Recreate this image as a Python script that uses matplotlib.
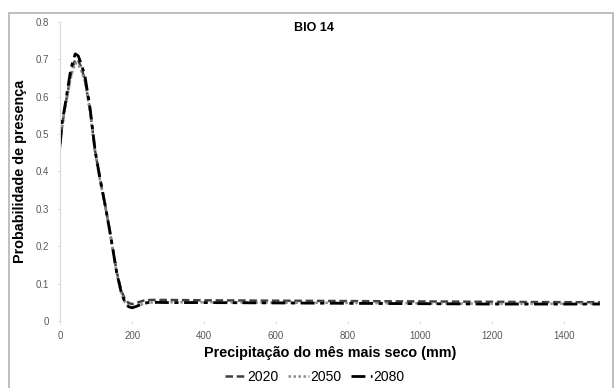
import matplotlib
matplotlib.use("Agg")
import matplotlib.pyplot as plt
from matplotlib.patches import Rectangle

plt.rcParams['font.family'] = ['Liberation Sans', 'DejaVu Sans']

# precipitation (mm) and presence probability per scenario
x = [0, 5, 14, 28, 35, 42, 50, 58, 69, 83, 97, 110, 125, 139, 157, 170, 180,
     190, 200, 215, 231, 250, 300, 400, 600, 800, 1000, 1200, 1400, 1500]
p2020 = [0.47, 0.52, 0.575, 0.65, 0.68, 0.70, 0.698, 0.68, 0.645, 0.565, 0.455,
         0.385, 0.31, 0.235, 0.132, 0.08, 0.058, 0.048, 0.045, 0.049, 0.054, 0.056,
         0.056, 0.055, 0.054, 0.053, 0.052, 0.051, 0.050, 0.050]
p2050 = [0.465, 0.515, 0.57, 0.645, 0.672, 0.69, 0.688, 0.672, 0.64, 0.56, 0.45,
         0.38, 0.305, 0.23, 0.128, 0.074, 0.05, 0.04, 0.036, 0.04, 0.046, 0.049,
         0.050, 0.050, 0.049, 0.048, 0.047, 0.046, 0.046, 0.046]
p2080 = [0.475, 0.53, 0.58, 0.665, 0.695, 0.715, 0.71, 0.69, 0.655, 0.57, 0.457,
         0.385, 0.31, 0.235, 0.13, 0.075, 0.05, 0.038, 0.035, 0.04, 0.047, 0.050,
         0.049, 0.049, 0.048, 0.047, 0.046, 0.045, 0.045, 0.045]

fig = plt.figure(figsize=(6.14, 3.88), dpi=100)
ax = fig.add_axes([0.098, 0.173, 0.879, 0.770])

ax.plot(x, p2020, color='#404040', lw=1.8, ls=(0, (3, 1.5)), label='2020')
ax.plot(x, p2050, color='#8c8c8c', lw=1.8, ls=(0, (1, 1)), label='2050')
ax.plot(x, p2080, color='black', lw=2.0, ls=(0, (5, 2, 1.5, 2)), label='2080')

ax.set_xlim(0, 1500)
ax.set_ylim(0, 0.8)
ax.set_xticks(range(0, 1401, 200))
ax.set_yticks([0, 0.1, 0.2, 0.3, 0.4, 0.5, 0.6, 0.7, 0.8])
ax.set_yticklabels(['0', '0.1', '0.2', '0.3', '0.4', '0.5', '0.6', '0.7', '0.8'])
for s in ['top', 'right', 'bottom']:
    ax.spines[s].set_visible(False)
ax.spines['left'].set_color('#d9d9d9')
ax.tick_params(axis='both', labelsize=7, colors='#595959', length=2, width=0.6)
ax.tick_params(axis='x', color='#d9d9d9', pad=5)
ax.tick_params(axis='y', color='#d9d9d9', pad=6)

fig.text(314 / 614, 1 - 28 / 388, 'BIO 14', fontsize=9, fontweight='bold',
         ha='center', va='center')
ax.set_xlabel('Precipitação do mês mais seco (mm)', fontsize=10.4, fontweight='bold', labelpad=4)
ax.set_ylabel('Probabilidade de presença', fontsize=10.4, fontweight='bold', labelpad=6)

leg = fig.legend(loc='center', bbox_to_anchor=(315 / 614, 1 - 377 / 388), ncol=3,
                 frameon=False, fontsize=10, handlelength=1.45, handletextpad=0.15,
                 columnspacing=0.7, borderpad=0)

fig.patches.append(Rectangle((9 / 614, -0.05), 604 / 614, 1.05 - 12.5 / 388,
                             transform=fig.transFigure, fill=False,
                             edgecolor='#bfbfbf', lw=1.4))

fig.savefig('out.png', dpi=100)
